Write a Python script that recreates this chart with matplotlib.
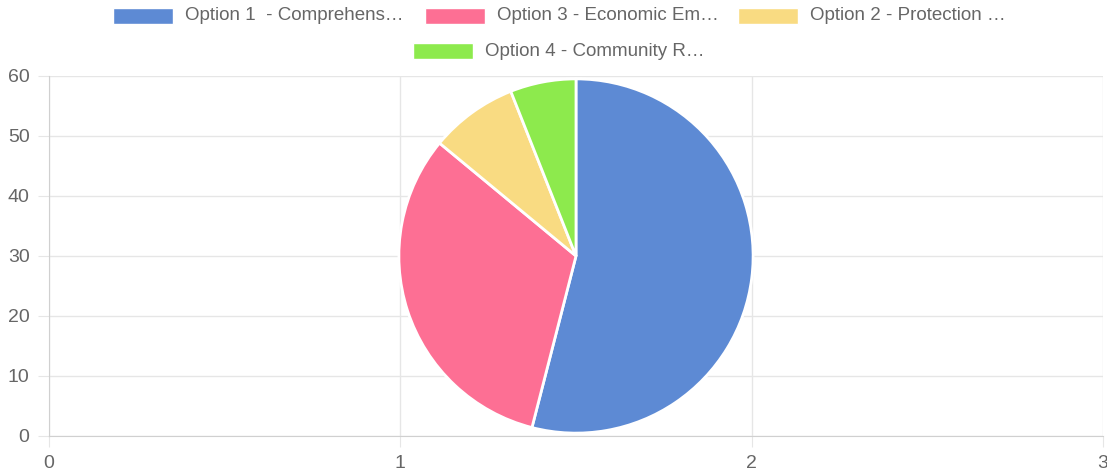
import matplotlib.pyplot as plt
from matplotlib.patches import Rectangle

labels = ["Option 1  - Comprehens…", "Option 3 - Economic Em…",
          "Option 2 - Protection …", "Option 4 - Community R…"]
values = [27, 16, 4, 3]
colors = ["#5D8AD4", "#FD6F94", "#F9DB82", "#8DEA4D"]

x_ticks = [0, 1, 2, 3]
y_ticks = [0, 10, 20, 30, 40, 50, 60]

plt.rcParams['font.family'] = ['Liberation Sans', 'DejaVu Sans']

W, H = 1107, 472
fig = plt.figure(figsize=(W / 100, H / 100), dpi=100)

# background axes (Chart.js-style grid)
ax = fig.add_axes([49 / W, 36 / H, (1103 - 49) / W, (436 - 76) / H])
ax.set_xlim(0, 3)
ax.set_ylim(0, 60)
ax.set_xticks(x_ticks)
ax.set_yticks(y_ticks)
ax.grid(True, color="#e6e6e6", linewidth=1)
for s in ["top", "right"]:
    ax.spines[s].set_visible(False)
for s in ["left", "bottom"]:
    ax.spines[s].set_color("#d0d0d0")
ax.tick_params(length=8, color="#e6e6e6", labelcolor="#666666",
               labelsize=14, pad=6)
ax.set_axisbelow(True)

# pie in its own square axes
cx, cy, r = 576, 256, 178
pax = fig.add_axes([(cx - r) / W, (H - cy - r) / H, 2 * r / W, 2 * r / H])
pax.pie(values, colors=colors, startangle=90, counterclock=False,
        wedgeprops=dict(edgecolor="white", linewidth=2))
pax.set_xlim(-1.005, 1.005)
pax.set_ylim(-1.005, 1.005)
pax.axis("off")

# legend drawn like Chart.js (centered rows)
rows = [[(113, 16, 0), (425, 16, 1), (738, 16, 2)], [(413, 51, 3)]]
for row in rows:
    for x0, yc, i in row:
        fig.patches.append(Rectangle((x0 / W, (H - yc - 7.5) / H), 60 / W, 15 / H,
                                     transform=fig.transFigure, facecolor=colors[i],
                                     edgecolor="white", linewidth=1))
        fig.text((x0 + 72) / W, (H - yc) / H, labels[i], color="#666666",
                 fontsize=13.5, va="center", ha="left")

fig.savefig("out.png", dpi=100)
